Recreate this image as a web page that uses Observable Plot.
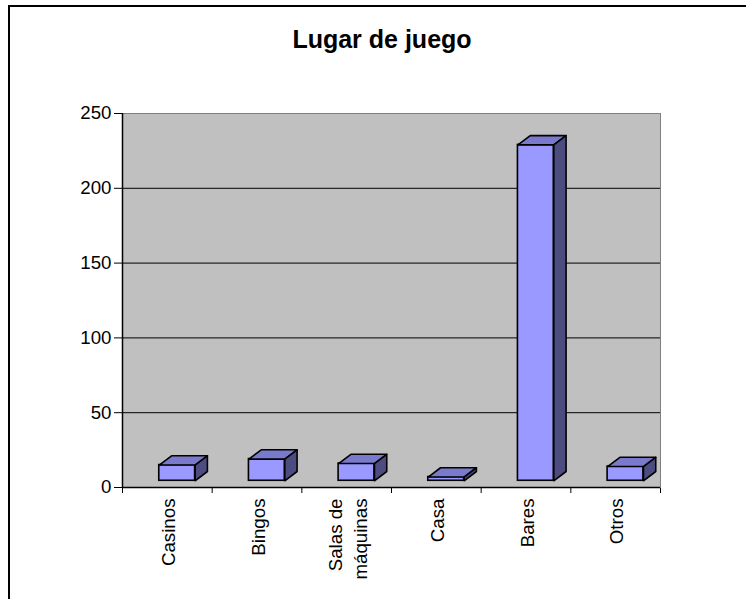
<!DOCTYPE html>
<html><head><meta charset="utf-8">
<script src="https://cdn.jsdelivr.net/npm/d3@7"></script>
<script src="https://cdn.jsdelivr.net/npm/@observablehq/plot@0.6"></script>
<style>
html,body{margin:0;padding:0;background:#fff;overflow:hidden;width:746px;height:599px}
#wrap{position:relative;width:746px;height:599px}
#chart{position:absolute;left:0;top:0}
#frame{position:absolute;left:8px;top:5px;width:800px;height:700px;border:2px solid #000;box-sizing:border-box;pointer-events:none}
#title{position:absolute;left:0;top:27px;width:764px;text-align:center;font:bold 25px/25px "Liberation Sans",Arial,sans-serif;color:#000;margin:0}
</style></head>
<body>
<div id="wrap">
  <div id="chart"></div>
  <div id="frame"></div>
  <h1 id="title">Lugar de juego</h1>
</div>
<script>
const categories = ["Casinos", "Bingos", "Salas de\nmáquinas", "Casa", "Bares", "Otros"];
const values = [15, 19, 16, 7, 229, 14];
const yTicks = [0, 50, 100, 150, 200, 250];
const gridValues = [50, 100, 150, 200];

// 3-D column styling (in scale units)
const barStart = 0.41, barWidth = 0.40, depthX = 0.137, depthY = 6.2, floorY = 4.5;

const bars = values.map((v, i) => ({i, v, a: i + barStart, b: i + barStart + barWidth}));
const topFaces = bars.flatMap(({i, v, a, b}) => [
  [a, v], [b, v], [b + depthX, v + depthY], [a + depthX, v + depthY]
].map(([x, y]) => ({id: i, x, y})));
const sideFaces = bars.flatMap(({i, v, b}) => [
  [b, floorY], [b + depthX, floorY + depthY], [b + depthX, v + depthY], [b, v]
].map(([x, y]) => ({id: i, x, y})));
const labels = categories.map((c, i) => ({label: c, x: i + 0.5}));

const chart = Plot.plot({
  width: 746,
  height: 599,
  marginLeft: 122,
  marginRight: 86,
  marginTop: 113,
  marginBottom: 112,
  style: {background: "transparent", fontFamily: "'Liberation Sans', Arial, sans-serif", fontSize: "18.7px", color: "#000"},
  x: {domain: [0, categories.length], ticks: d3.range(categories.length + 1), tickFormat: () => "", tickSize: 6, label: null},
  y: {domain: [0, 250], ticks: yTicks, tickSize: 8, tickPadding: 3, label: null},
  marks: [
    Plot.frame({fill: "#c0c0c0", stroke: "#808080"}),
    Plot.ruleY(gridValues, {stroke: "#000", strokeWidth: 1}),
    Plot.ruleY([0], {stroke: "#000", strokeWidth: 1.5}),
    Plot.ruleX([0], {stroke: "#000", strokeWidth: 1.5}),
    Plot.rect(bars, {x1: "a", x2: "b", y1: floorY, y2: "v", fill: "#9999ff", stroke: "#000", strokeWidth: 1.6}),
    Plot.line(topFaces, {x: "x", y: "y", z: "id", curve: "linear-closed", fill: "#7a7acc", stroke: "#000", strokeWidth: 1.6, strokeLinejoin: "round"}),
    Plot.line(sideFaces, {x: "x", y: "y", z: "id", curve: "linear-closed", fill: "#4c4c80", stroke: "#000", strokeWidth: 1.6, strokeLinejoin: "round"}),
    Plot.text(labels, {x: "x", y: 0, text: "label", rotate: -90, textAnchor: "end", lineAnchor: "middle", lineHeight: 1.3, dy: 11, fontSize: 18.7})
  ]
});
document.getElementById("chart").appendChild(chart);
</script>
</body></html>
